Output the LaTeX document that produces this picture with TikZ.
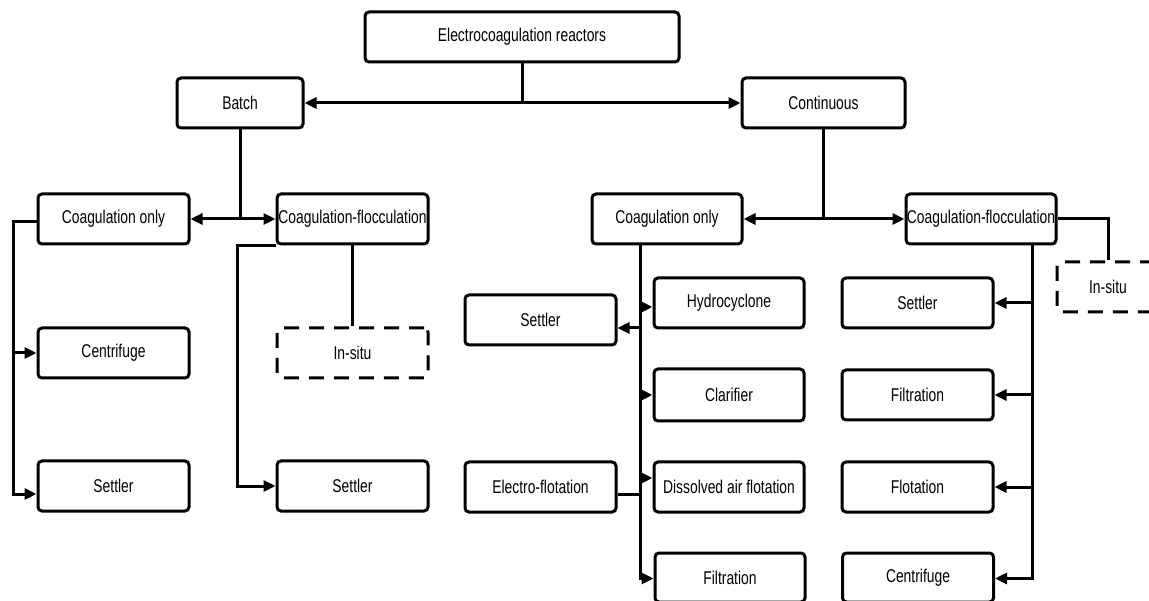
\documentclass[tikz,border=0pt]{standalone}
\usepackage{fontspec}
\setmainfont{Liberation Sans}[FakeStretch=0.75]
\usetikzlibrary{arrows.meta,calc}
\begin{document}
\begin{tikzpicture}[x=1pt,y=-1pt,
  box/.style={draw, line width=3pt, rounded corners=4pt, minimum width=151pt,
    minimum height=50pt, inner sep=0pt, font=\fontsize{18.5}{20}\selectfont, fill=white},
  dbox/.style={box, dash pattern=on 15pt off 10pt},
  conn/.style={line width=3pt},
  arr/.style={conn, -{Triangle[length=12pt,width=11pt]}}]
\fill[white] (0,0) rectangle (1149,601);
\clip (0,0) rectangle (1149,601);

% top
\node[box, minimum width=314pt] (top) at (522,37) {Electrocoagulation reactors};
\node[box, minimum width=126pt] (batch) at (240,103) {Batch};
\node[box, minimum width=163pt] (cont) at (823.5,103) {Continuous};

% batch branch
\node[box] (lco) at (113.5,219) {Coagulation only};
\node[box] (lcf) at (352.5,219) {Coagulation-flocculation};
\node[box] (lcent) at (113.5,353) {Centrifuge};
\node[box] (lset) at (113.5,486) {Settler};
\node[dbox] (linsitu) at (352.5,353) {In-situ};
\node[box] (lset2) at (352.5,486) {Settler};

% continuous branch
\node[box, minimum width=150pt] (rco) at (667,219) {Coagulation only};
\node[box, minimum width=150pt] (rcf) at (981,219) {Coagulation-flocculation};
\node[dbox, minimum width=102pt] (rinsitu) at (1108,287) {In-situ};
\node[box] (rset) at (540.5,320) {Settler};
\node[box] (ef) at (540.5,487) {Electro-flotation};
\node[box, minimum width=150pt] (hyd) at (729,303) {Hydrocyclone};
\node[box, minimum width=150pt, minimum height=52pt] (clar) at (729,395) {Clarifier};
\node[box, minimum width=150pt] (daf) at (729,487) {Dissolved air flotation};
\node[box, minimum width=150pt, minimum height=49pt] (rfilt) at (730,577.5) {Filtration};
\node[box] (cset) at (917.5,303) {Settler};
\node[box] (cfilt) at (917.5,395) {Filtration};
\node[box] (cflot) at (917.5,487) {Flotation};
\node[box, minimum height=49pt] (ccent) at (918,577.5) {Centrifuge};

% top connectors
\draw[arr] (top.south) |- (batch.east);
\draw[arr] (top.south) |- (cont.west);

% batch connectors
\draw[arr] (batch.south) |- (lco.east);
\draw[arr] (batch.south) |- (lcf.west);
\coordinate (lbus) at (13,222);
\draw[arr] ($(lco.west)+(0,3)$) -- (lbus) |- ($(lset.west)+(0,8)$);
\draw[arr] (lbus) |- (lcent.west);
\draw[arr] (lcf.south west) -- ++(-38,0) |- (lset2.west);
\draw[conn] (lcf.south) -- (linsitu.north);

% continuous connectors
\draw[arr] (cont.south) |- (rco.east);
\draw[arr] (cont.south) |- (rcf.west);
\draw[conn] (rcf.east) -| (rinsitu.north);

\coordinate (rbus) at (640,244);
\draw[arr] (rbus) |- ($(rfilt.west)+(0,1)$);
\draw[arr] (rbus) |- ($(hyd.west)+(0,4)$);
\draw[arr] (rbus) |- (clar.west);
\draw[arr] (rbus) |- ($(daf.west)+(0,-9)$);
\draw[arr] (rbus) |- ($(rset.east)+(0,8)$);
\draw[conn] (rbus) |- ($(ef.east)+(0,7)$);

\coordinate (cbus) at (1032,244);
\draw[arr] (cbus) |- ($(ccent.east)+(0,1)$);
\draw[arr] (cbus) |- (cset.east);
\draw[arr] (cbus) |- (cfilt.east);
\draw[arr] (cbus) |- (cflot.east);
\end{tikzpicture}
\end{document}
